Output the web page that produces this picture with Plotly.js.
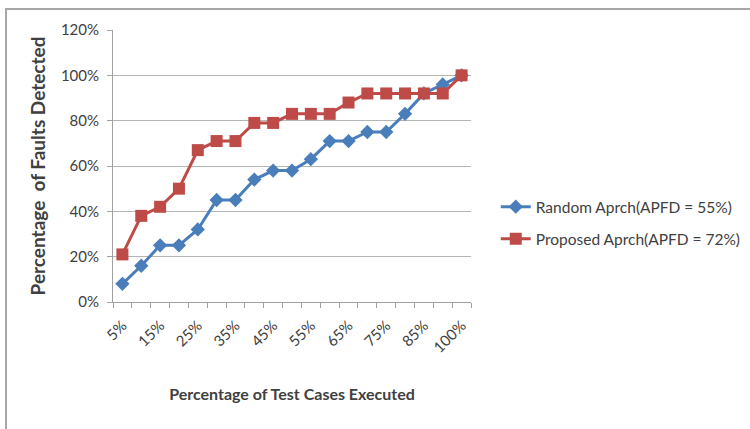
<!DOCTYPE html>
<html>
<head>
<meta charset="utf-8">
<script src="https://cdn.plot.ly/plotly-3.0.1.min.js"></script>
<style>
html,body{margin:0;padding:0;background:#fff;overflow:hidden;}
#wrap{position:relative;width:750px;height:429px;}
#chart{position:absolute;left:0;top:0;width:750px;height:429px;}
#frame{position:absolute;left:5px;top:8px;width:780px;height:460px;border:2px solid #a6a6a6;box-sizing:border-box;pointer-events:none;}
</style>
</head>
<body>
<div id="wrap"><div id="chart"></div><div id="frame"></div></div>
<script>
var categories = ["5%","10%","15%","20%","25%","30%","35%","40%","45%","50%","55%","60%","65%","70%","75%","80%","85%","90%","100%"];
var randomValues = [0.08,0.16,0.25,0.25,0.32,0.45,0.45,0.54,0.58,0.58,0.63,0.71,0.71,0.75,0.75,0.83,0.92,0.96,1.00];
var proposedValues = [0.21,0.38,0.42,0.50,0.67,0.71,0.71,0.79,0.79,0.83,0.83,0.83,0.88,0.92,0.92,0.92,0.92,0.92,1.00];
var seriesNames = ["Random Aprch(APFD = 55%)","Proposed Aprch(APFD = 72%)"];
var tickLabels = categories.map(function(c,i){ return i % 2 === 0 ? c : ""; });

var font = "Lato, 'Open Sans', sans-serif";
var traces = [
  {x: categories, y: randomValues, name: seriesNames[0], type: "scatter", mode: "lines+markers",
   line: {color: "#4a7ebb", width: 3}, marker: {symbol: "diamond", size: 11, color: "#4a7ebb"},
   legendgroup: "a"},
  {x: categories, y: proposedValues, name: seriesNames[1], type: "scatter", mode: "lines+markers",
   line: {color: "#be4b48", width: 3}, marker: {symbol: "square", size: 12, color: "#be4b48"},
   legendgroup: "b"}
];
var layout = {
  width: 750, height: 429,
  margin: {l: 113, r: 279, t: 30, b: 127},
  paper_bgcolor: "#fff", plot_bgcolor: "#fff",
  font: {family: font, size: 15, color: "#404040"},
  showlegend: true,
  legend: {xref: "container", yref: "container", x: 0.661, y: 0.48, xanchor: "left", yanchor: "middle",
           font: {family: font, size: 15.5, color: "#404040"},
           tracegroupgap: 9, traceorder: "grouped", bgcolor: "rgba(0,0,0,0)"},
  xaxis: {type: "category", tickmode: "array", tickvals: categories, ticktext: tickLabels,
          tickson: "boundaries", ticks: "outside", ticklen: 5, tickcolor: "#a0a0a0",
          tickangle: -45, ticklabelstandoff: 8, tickfont: {family: font, size: 15, color: "#404040"},
          showline: true, linecolor: "#a0a0a0", linewidth: 1, showgrid: false, zeroline: false,
          range: [-0.5, 18.5], automargin: false,
          title: {text: "<b>Percentage of Test Cases Executed</b>", font: {family: font, size: 16, color: "#404040"}, standoff: 33}},
  yaxis: {range: [0, 1.2], dtick: 0.2, tickformat: ".0%", ticks: "outside", ticklen: 5, tickcolor: "#a0a0a0",
          ticklabelstandoff: 5, automargin: false,
          showline: true, linecolor: "#a0a0a0", linewidth: 1, showgrid: true, gridcolor: "#b4b4b4", gridwidth: 1,
          zeroline: false, tickfont: {family: font, size: 15, color: "#404040"},
          title: {text: "<b>Percentage  of Faults Detected</b>", font: {family: font, size: 19, color: "#404040"}, standoff: 10}}
};
Plotly.newPlot("chart", traces, layout, {displayModeBar: false, staticPlot: true});
</script>
</body>
</html>
